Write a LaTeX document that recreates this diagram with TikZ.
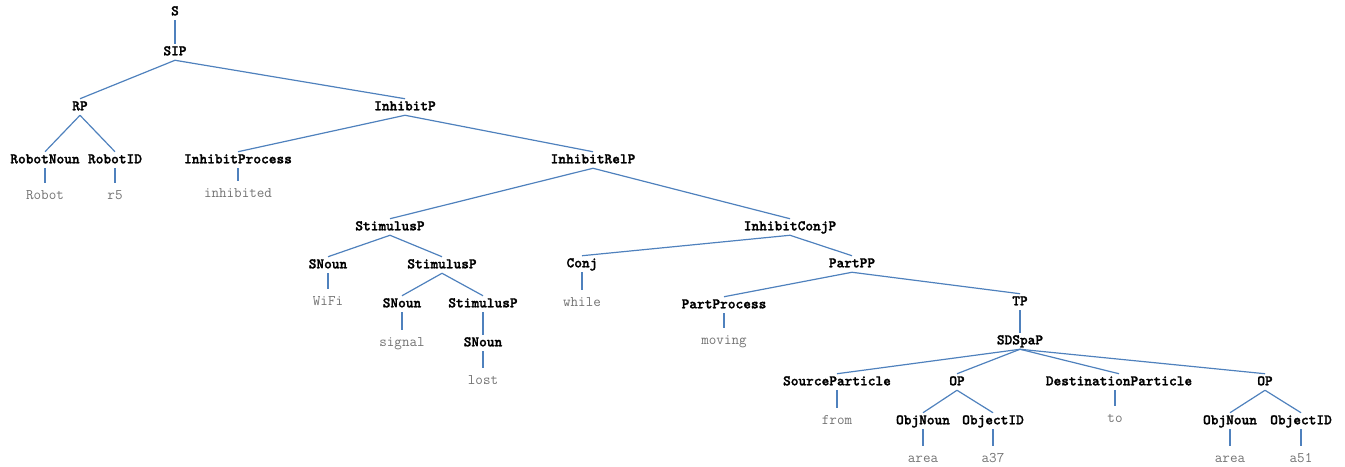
\documentclass[tikz,border=0pt]{standalone}
\usepackage{fontspec}
\newfontfamily\catfont[FakeBold=1.6]{lmmonolt10-bold.otf}
\usepackage{xcolor}
\usetikzlibrary{positioning}
\definecolor{edgeblue}{RGB}{79,129,189}
\definecolor{leafgray}{RGB}{115,115,115}

\begin{document}
\begin{tikzpicture}[x=0.75pt, y=-0.75pt,
        cat/.style={inner xsep=0pt, inner ysep=1.5pt, text height=7pt, text depth=2pt, font=\fontsize{11}{13}\selectfont\catfont},
        word/.style={inner xsep=0pt, inner ysep=5.25pt, text height=7pt, text depth=2pt, text=leafgray, font=\fontsize{11}{13}\selectfont\ttfamily},
        edge/.style={draw=edgeblue, line width=0.9pt}]
        \useasboundingbox (0,0) rectangle (1345,467);
        % Top of the tree
        \node[cat] (s) at (175,12) {S};
        \node[cat] (sip) at (175,52) {SIP};
        \node[cat] (rp) at (80,107) {RP};
        \node[cat] (inhp) at (405,107) {InhibitP};
        
        % Robot phrase
        \node[cat] (rnoun) at (45,160) {RobotNoun};
        \node[cat] (rid) at (115,160) {RobotID};
        \node[word] (robot) at (45,196) {Robot};
        \node[word] (r5) at (115,196) {r5};
        
        % Inhibit phrase
        \node[cat] (inhproc) at (238,160) {InhibitProcess};
        \node[word] (inhibited) at (238,194) {inhibited};
        \node[cat] (inhrel) at (593,160) {InhibitRelP};
        
        % Stimulus branch
        \node[cat] (stim) at (390,227) {StimulusP};
        \node[cat] (snoun) at (328,265) {SNoun};
        \node[word] (wifi) at (328,302) {WiFi};
        \node[cat] (stimb) at (442,265) {StimulusP};
        \node[cat] (snounb) at (402,304) {SNoun};
        \node[word] (signal) at (402,343) {signal};
        \node[cat] (stimc) at (483,304) {StimulusP};
        \node[cat] (snounc) at (483,343) {SNoun};
        \node[word] (lost) at (483,381) {lost};
        
        % Conjunction branch
        \node[cat] (inhconj) at (790,227) {InhibitConjP};
        \node[cat] (conj) at (582,264) {Conj};
        \node[word] (while) at (582,303) {while};
        \node[cat] (partpp) at (852,264) {PartPP};
        \node[cat] (partproc) at (724,305) {PartProcess};
        \node[word] (moving) at (724,341) {moving};
        \node[cat] (tp) at (1020,302) {TP};
        \node[cat] (sdspap) at (1020,341) {SDSpaP};
        
        % Source / destination
        \node[cat] (srcpart) at (837,382) {SourceParticle};
        \node[word] (from) at (837,421) {from};
        \node[cat] (opa) at (957,382) {OP};
        \node[cat] (objnouna) at (923,421) {ObjNoun};
        \node[cat] (objida) at (993,421) {ObjectID};
        \node[word] (areaa) at (923,459) {area};
        \node[word] (a37) at (993,459) {a37};
        \node[cat] (dstpart) at (1119,382) {DestinationParticle};
        \node[word] (to) at (1115,419) {to};
        \node[cat] (opb) at (1265,382) {OP};
        \node[cat] (objnounb) at (1230,421) {ObjNoun};
        \node[cat] (objidb) at (1301,421) {ObjectID};
        \node[word] (areab) at (1230,459) {area};
        \node[word] (a51) at (1301,459) {a51};
        
        % Edges
        \draw[edge] (s.south) -- (sip.north);
        \draw[edge] (sip.south) -- (rp.north);
        \draw[edge] (sip.south) -- (inhp.north);
        \draw[edge] (rp.south) -- (rnoun.north);
        \draw[edge] (rp.south) -- (rid.north);
        \draw[edge] (rnoun.south) -- (robot.north);
        \draw[edge] (rid.south) -- (r5.north);
        \draw[edge] (inhp.south) -- (inhproc.north);
        \draw[edge] (inhp.south) -- (inhrel.north);
        \draw[edge] (inhproc.south) -- (inhibited.north);
        \draw[edge] (inhrel.south) -- (stim.north);
        \draw[edge] (inhrel.south) -- (inhconj.north);
        \draw[edge] (stim.south) -- (snoun.north);
        \draw[edge] (stim.south) -- (stimb.north);
        \draw[edge] (snoun.south) -- (wifi.north);
        \draw[edge] (stimb.south) -- (snounb.north);
        \draw[edge] (stimb.south) -- (stimc.north);
        \draw[edge] (snounb.south) -- (signal.north);
        \draw[edge] (stimc.south) -- (snounc.north);
        \draw[edge] (snounc.south) -- (lost.north);
        \draw[edge] (inhconj.south) -- (conj.north);
        \draw[edge] (inhconj.south) -- (partpp.north);
        \draw[edge] (conj.south) -- (while.north);
        \draw[edge] (partpp.south) -- (partproc.north);
        \draw[edge] (partpp.south) -- (tp.north);
        \draw[edge] (partproc.south) -- (moving.north);
        \draw[edge] (tp.south) -- (sdspap.north);
        \draw[edge] (sdspap.south) -- (srcpart.north);
        \draw[edge] (sdspap.south) -- (opa.north);
        \draw[edge] (sdspap.south) -- (dstpart.north);
        \draw[edge] (sdspap.south) -- (opb.north);
        \draw[edge] (srcpart.south) -- (from.north);
        \draw[edge] (opa.south) -- (objnouna.north);
        \draw[edge] (opa.south) -- (objida.north);
        \draw[edge] (objnouna.south) -- (areaa.north);
        \draw[edge] (objida.south) -- (a37.north);
        \draw[edge] (to.north |- dstpart.south) -- (to.north);
        \draw[edge] (opb.south) -- (objnounb.north);
        \draw[edge] (opb.south) -- (objidb.north);
        \draw[edge] (objnounb.south) -- (areab.north);
        \draw[edge] (objidb.south) -- (a51.north);
    \end{tikzpicture}
\end{document}
